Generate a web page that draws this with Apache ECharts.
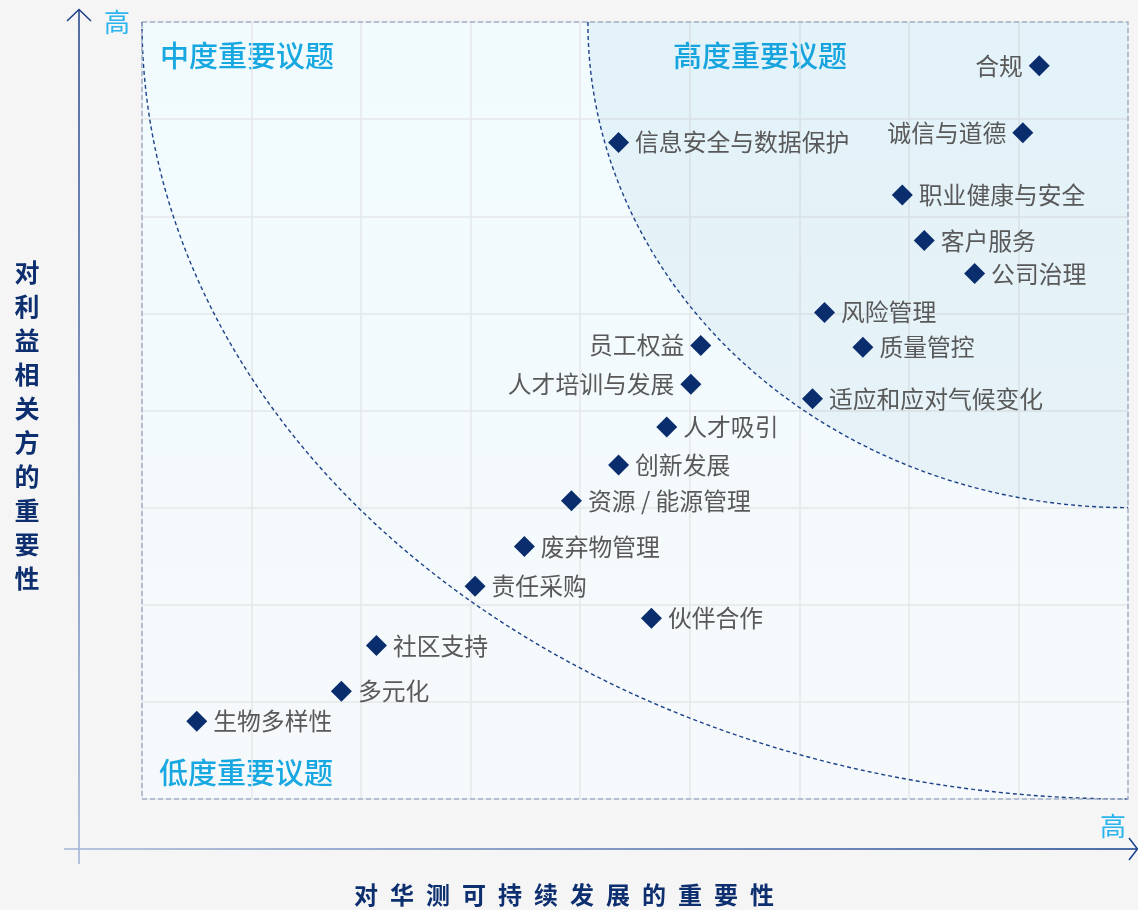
<!DOCTYPE html>
<html>
<head>
<meta charset="utf-8">
<script src="https://cdn.jsdelivr.net/npm/echarts@6/dist/echarts.min.js"></script>
<style>
  html, body { margin: 0; padding: 0; background: #f5f5f5; }
  #chart { width: 1138px; height: 910px; }
</style>
</head>
<body>
<div id="chart"></div>
<script>
// ---- data ----
const topics = ['合规', '诚信与道德', '信息安全与数据保护', '职业健康与安全', '客户服务', '公司治理',
  '风险管理', '员工权益', '质量管控', '人才培训与发展', '适应和应对气候变化', '人才吸引', '创新发展',
  '资源 / 能源管理', '废弃物管理', '责任采购', '伙伴合作', '社区支持', '多元化', '生物多样性'];
const sustainabilityImportance = [8.19, 8.04, 4.35, 6.94, 7.14, 7.60, 6.23, 5.10, 6.58, 5.01, 6.12, 4.79, 4.35,
  3.92, 3.49, 3.04, 4.65, 2.14, 1.82, 0.50];
const stakeholderImportance = [7.55, 6.86, 6.76, 6.22, 5.75, 5.41, 5.01, 4.67, 4.65, 4.27, 4.12, 3.83, 3.44,
  3.07, 2.60, 2.19, 1.86, 1.58, 1.11, 0.80];
const leftLabelTopics = ['合规', '诚信与道德', '员工权益', '人才培训与发展'];
const axisRange = [9, 8];          // x max, y max
const highBoundary = [4.07, 3.0];  // x where the high-importance curve meets the top, y where it meets the right
const regionTitles = ['中度重要议题', '高度重要议题', '低度重要议题'];
const axisTitles = ['对华测可持续发展的重要性', '对利益相关方的重要性'];
const axisEndLabel = '高';

const chart = echarts.init(document.getElementById('chart'));
const FONT = '"Noto Sans CJK SC", "Noto Sans", sans-serif';
const NAVY = '#0a2d6d';

const scatterData = topics.map((t, i) => {
  const left = leftLabelTopics.indexOf(t) >= 0;
  return {
    name: t,
    value: [sustainabilityImportance[i], stakeholderImportance[i]],
    label: { position: left ? 'left' : 'right' }
  };
});

function renderRegions(params, api) {
  const xMax = axisRange[0], yMax = axisRange[1];
  const tl = api.coord([0, yMax]);
  const br = api.coord([xMax, 0]);
  const c = api.coord([xMax, yMax]);
  const rxO = c[0] - tl[0], ryO = br[1] - c[1];
  const hs = api.coord([highBoundary[0], yMax]);
  const he = api.coord([xMax, highBoundary[1]]);
  const rxI = c[0] - hs[0], ryI = he[1] - c[1];
  const innerArc = `M${hs[0]} ${hs[1]} A${rxI} ${ryI} 0 0 0 ${he[0]} ${he[1]}`;
  const outerArc = `M${tl[0]} ${tl[1]} A${rxO} ${ryO} 0 0 0 ${br[0]} ${br[1]}`;
  const dashStyle = { fill: 'none', stroke: '#1d4289', lineWidth: 1.4, lineDash: [4, 3] };
  return {
    type: 'group',
    children: [
      { type: 'path', shape: { pathData: innerArc + ` L${c[0]} ${c[1]} Z` },
        style: { fill: 'rgba(0,110,160,0.055)' } },
      { type: 'path', shape: { pathData: innerArc }, style: dashStyle },
      { type: 'path', shape: { pathData: outerArc }, style: dashStyle },
      { type: 'rect', shape: { x: tl[0], y: tl[1], width: br[0] - tl[0], height: br[1] - tl[1] },
        style: { fill: 'none', stroke: '#a3b0c8', lineWidth: 1.5, lineDash: [5, 3] } }
    ]
  };
}

const titleStyle = { fontSize: 29, fontFamily: FONT, fontWeight: 500, fill: '#17a8e1' };
const highStyle = { fontSize: 26, fontFamily: FONT, fill: '#2ab4ee' };

chart.setOption({
  backgroundColor: '#f5f5f5',
  animation: false,
  grid: {
    left: 142, right: 10, top: 22, bottom: 111,
    show: true, borderWidth: 0,
    backgroundColor: {
      type: 'linear', x: 0, y: 0, x2: 0, y2: 1,
      colorStops: [{ offset: 0, color: '#f1fbfe' }, { offset: 1, color: '#f6f9fb' }]
    }
  },
  xAxis: {
    type: 'value', min: 0, max: axisRange[0], interval: 1,
    axisLine: { show: false }, axisTick: { show: false }, axisLabel: { show: false },
    splitLine: { show: true, lineStyle: { color: '#e5e7e9', width: 1.5 } }
  },
  yAxis: {
    type: 'value', min: 0, max: axisRange[1], interval: 1,
    axisLine: { show: false }, axisTick: { show: false }, axisLabel: { show: false },
    splitLine: { show: true, lineStyle: { color: '#e5e7e9', width: 1.5 } }
  },
  series: [
    {
      type: 'custom', coordinateSystem: 'cartesian2d', silent: true,
      renderItem: renderRegions, data: [[0, 0]], z: 1
    },
    {
      type: 'scatter', symbol: 'diamond', symbolSize: 21, z: 3,
      itemStyle: { color: NAVY, opacity: 1 },
      label: {
        show: true, formatter: '{b}', fontSize: 23.8, fontFamily: FONT,
        color: '#595959', distance: 6
      },
      emphasis: { disabled: true },
      data: scatterData
    }
  ],
  graphic: [
    // axis arrows
    { type: 'polyline', shape: { points: [[79, 864], [79, 10]] },
      style: { fill: 'none', lineWidth: 1.5,
        stroke: { type: 'linear', x: 0, y: 0, x2: 0, y2: 1,
          colorStops: [{ offset: 0, color: '#1b3f88' }, { offset: 1, color: '#9fb2d4' }] } } },
    { type: 'polyline', shape: { points: [[67, 21], [79, 9.5], [91, 21]] },
      style: { fill: 'none', stroke: '#1b3f88', lineWidth: 1.5 } },
    { type: 'polyline', shape: { points: [[64, 849], [1137, 849]] },
      style: { fill: 'none', lineWidth: 1.5,
        stroke: { type: 'linear', x: 0, y: 0, x2: 1, y2: 0,
          colorStops: [{ offset: 0, color: '#a3b5d6' }, { offset: 1, color: '#153f8c' }] } } },
    { type: 'polyline', shape: { points: [[1129, 838], [1137.5, 849], [1129, 860]] },
      style: { fill: 'none', stroke: '#153f8c', lineWidth: 1.5 } },
    // axis end labels
    { type: 'text', x: 117, y: 22, style: Object.assign({ text: axisEndLabel, align: 'center', verticalAlign: 'middle' }, highStyle) },
    { type: 'text', x: 1113, y: 826, style: Object.assign({ text: axisEndLabel, align: 'center', verticalAlign: 'middle' }, highStyle) },
    // region titles
    { type: 'text', x: 160, y: 56, style: Object.assign({ text: regionTitles[0], align: 'left', verticalAlign: 'middle' }, titleStyle) },
    { type: 'text', x: 760, y: 56, style: Object.assign({ text: regionTitles[1], align: 'center', verticalAlign: 'middle' }, titleStyle) },
    { type: 'text', x: 159, y: 773, style: Object.assign({ text: regionTitles[2], align: 'left', verticalAlign: 'middle' }, titleStyle) },
    // axis titles
    { type: 'text', x: 564, y: 895,
      style: { text: axisTitles[0].split('').join('\u2002'), align: 'center', verticalAlign: 'middle',
        fontSize: 24, fontWeight: 'bold', fontFamily: FONT, fill: '#0d2f6f' } },
    { type: 'text', x: 27, y: 425,
      style: { text: axisTitles[1].split('').join('\n'), align: 'center', verticalAlign: 'middle',
        fontSize: 25, lineHeight: 34, fontWeight: 'bold', fontFamily: FONT, fill: '#0d2f6f' } }
  ]
});
</script>
</body>
</html>
